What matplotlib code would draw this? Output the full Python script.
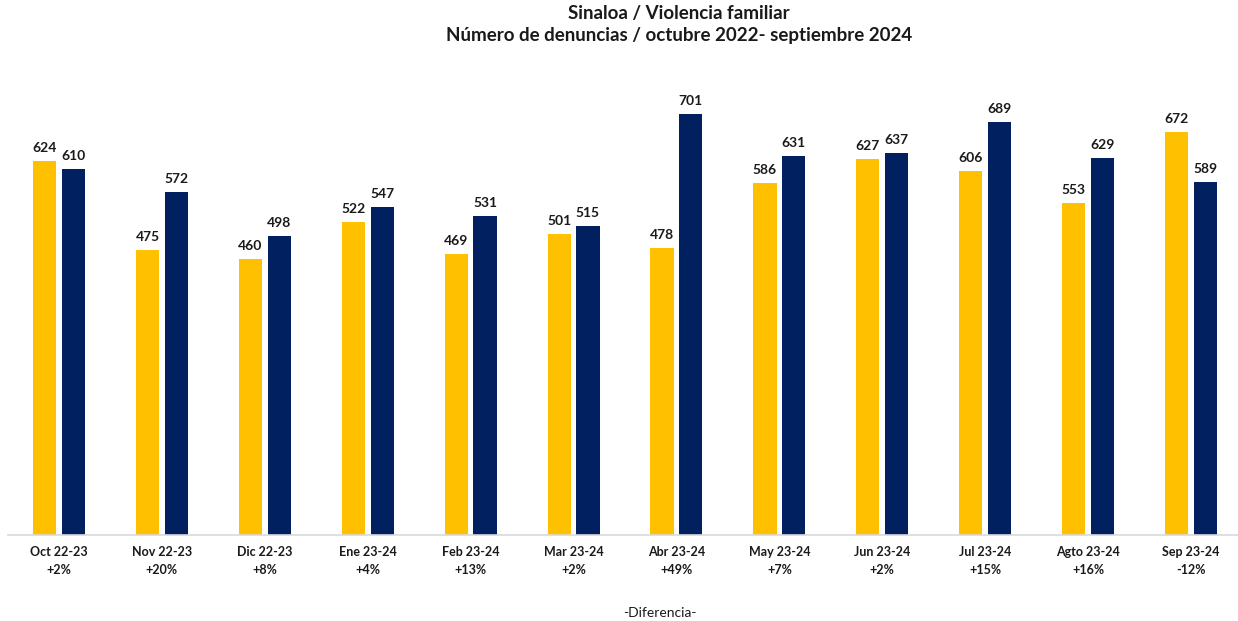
import matplotlib
matplotlib.use('Agg')
from matplotlib import pyplot as plt
import numpy as np

plt.rcParams['font.family'] = ['Lato', 'DejaVu Sans']

# Data
months = ['Oct 22-23', 'Nov 22-23', 'Dic 22-23', 'Ene 23-24', 'Feb 23-24', 'Mar 23-24',
          'Abr 23-24', 'May 23-24', 'Jun 23-24', 'Jul 23-24', 'Agto 23-24', 'Sep 23-24']
prev_year = [624, 475, 460, 522, 469, 501, 478, 586, 627, 606, 553, 672]
curr_year = [610, 572, 498, 547, 531, 515, 701, 631, 637, 689, 629, 589]
diff = ['+2%', '+20%', '+8%', '+4%', '+13%', '+2%', '+49%', '+7%', '+2%', '+15%', '+16%', '-12%']

fig = plt.figure(figsize=(12.38, 6.21), dpi=100)
ax = fig.add_axes([7.5 / 1238, 86 / 621, 1235 / 1238, 480 / 621])

x = np.arange(len(months))
w = 0.225
off = 0.14
b1 = ax.bar(x - off, prev_year, w, color='#FFC000')
b2 = ax.bar(x + off, curr_year, w, color='#002060')

for bars in (b1, b2):
    for rect in bars:
        ax.annotate(str(int(rect.get_height())),
                    (rect.get_x() + rect.get_width() / 2, rect.get_height()),
                    xytext=(0, 5), textcoords='offset points',
                    ha='center', va='bottom', fontsize=10, fontweight='bold', color='#1a1a1a')

ax.set_xlim(-0.5, len(months) - 0.5)
ax.set_ylim(0, 800)
ax.set_yticks([])
ax.set_xticks(x)
ax.set_xticklabels([m + '\n' + d for m, d in zip(months, diff)],
                   fontsize=9, fontweight='bold', color='#1a1a1a', linespacing=1.6)
ax.tick_params(axis='x', length=0, pad=8)
for s in ['top', 'right', 'left']:
    ax.spines[s].set_visible(False)
ax.spines['bottom'].set_color('#d9d9d9')
ax.spines['bottom'].set_linewidth(1.2)

fig.text(679 / 1238, 1 - 14 / 621, 'Sinaloa / Violencia familiar', ha='center', va='center',
         fontsize=13.5, fontweight='bold', color='#1a1a1a')
fig.text(679 / 1238, 1 - 35 / 621, 'Número de denuncias / octubre 2022- septiembre 2024',
         ha='center', va='center', fontsize=13.5, fontweight='bold', color='#1a1a1a')
fig.text(660 / 1238, 1 - 613 / 621, '-Diferencia-', ha='center', va='center',
         fontsize=10, color='#1a1a1a')

plt.savefig('out.png', dpi=100)
